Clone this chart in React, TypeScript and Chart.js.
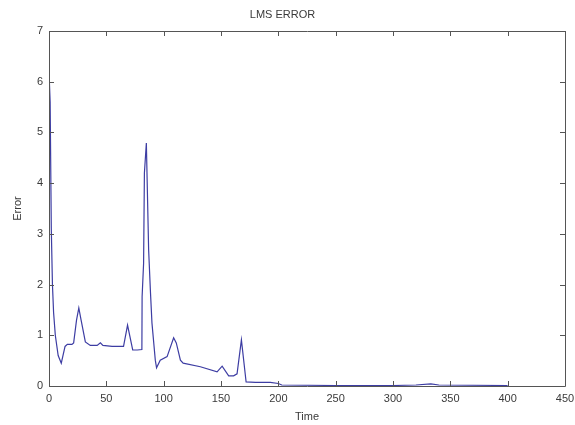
import React, { useEffect, useRef } from "react";
import { Chart, registerables } from "chart.js";

Chart.register(...registerables);

const titleText = "LMS ERROR";
const xLabel = "Time";
const yLabel = "Error";

const timeValues = [
  0, 1, 2, 3, 4, 5.5, 8, 10.7, 14, 16,
  20, 21.5, 24, 26, 28, 31.7, 36, 42, 44.8, 47,
  55, 65, 68.5, 73, 77, 81, 81.2, 82.5, 83.2, 84.9,
  86.9, 88.4, 89.8, 92.7, 93.8, 97, 103, 108.7, 111, 114.6,
  117, 132, 146.6, 151, 156.7, 161, 164, 167.8, 171.9, 180,
  193, 200, 203, 250, 300, 320, 333, 340, 400,
];

const errorValues = [
  6.2, 5.6, 3.1, 2.0, 1.45, 1.0, 0.6, 0.45, 0.78, 0.82,
  0.82, 0.85, 1.3, 1.54, 1.3, 0.87, 0.8, 0.8, 0.85, 0.8,
  0.78, 0.78, 1.2, 0.71, 0.71, 0.72, 1.76, 2.42, 4.2, 4.79,
  2.68, 1.89, 1.24, 0.51, 0.36, 0.51, 0.58, 0.95, 0.85, 0.51,
  0.45, 0.38, 0.28, 0.39, 0.2, 0.2, 0.24, 0.91, 0.08, 0.07,
  0.07, 0.05, 0.02, 0.01, 0.01, 0.02, 0.04, 0.02, 0.01,
];

const xMin = 0;
const xMax = 450;
const xStep = 50;
const yMin = 0;
const yMax = 7;
const yStep = 1;

const FONT = "'Liberation Sans', Arial, sans-serif";
const AXIS_COLOR = "#555555";
const TEXT_COLOR = "#3a3a3a";

const matlabFrame = {
  id: "matlabFrame",
  afterDatasetsDraw(chart: any) {
    const { ctx, chartArea, scales } = chart;
    const { left, right, top, bottom } = chartArea;
    const x = scales.x;
    const y = scales.y;
    const tl = 5;
    ctx.save();
    ctx.strokeStyle = AXIS_COLOR;
    ctx.lineWidth = 1;
    ctx.beginPath();
    ctx.rect(Math.round(left) + 0.5, Math.round(top) + 0.5, Math.round(right - left), Math.round(bottom - top));
    x.ticks.forEach((t: any) => {
      const px = Math.round(x.getPixelForValue(t.value)) + 0.5;
      ctx.moveTo(px, bottom);
      ctx.lineTo(px, bottom - tl);
      ctx.moveTo(px, top);
      ctx.lineTo(px, top + tl);
    });
    y.ticks.forEach((t: any) => {
      const py = Math.round(y.getPixelForValue(t.value)) + 0.5;
      ctx.moveTo(left, py);
      ctx.lineTo(left + tl, py);
      ctx.moveTo(right, py);
      ctx.lineTo(right - tl, py);
    });
    ctx.stroke();
    ctx.restore();
  },
};

export default function App() {
  const canvasRef = useRef<HTMLCanvasElement | null>(null);

  useEffect(() => {
    if (!canvasRef.current) return;
    const points = timeValues.map((t, i) => ({ x: t, y: errorValues[i] }));
    const chart = new Chart(canvasRef.current, {
      type: "line",
      data: {
        datasets: [
          {
            data: points,
            borderColor: "#3d3da3",
            borderWidth: 1.2,
            pointRadius: 0,
            tension: 0,
            fill: false,
          },
        ],
      },
      options: {
        responsive: false,
        animation: false,
        layout: { padding: { left: 0, right: 10, top: 0, bottom: 0 } },
        plugins: {
          legend: { display: false },
          tooltip: { enabled: false },
          title: {
            display: true,
            text: titleText,
            color: TEXT_COLOR,
            font: { family: FONT, size: 11, weight: "normal" },
            padding: { top: 8.4, bottom: 9.4 },
          },
        },
        scales: {
          x: {
            type: "linear",
            min: xMin,
            max: xMax,
            ticks: {
              stepSize: xStep,
              color: TEXT_COLOR,
              font: { family: FONT, size: 11 },
              padding: 6,
              maxRotation: 0,
            },
            grid: { display: false, drawTicks: false },
            border: { display: false },
            title: {
              display: true,
              text: xLabel,
              color: TEXT_COLOR,
              font: { family: FONT, size: 11 },
              padding: { top: 0, bottom: 1.7 },
            },
            afterFit: (scale: any) => {
              scale.height = 39;
              scale.paddingLeft = 0;
              scale.paddingRight = 0;
            },
          },
          y: {
            type: "linear",
            min: yMin,
            max: yMax,
            ticks: {
              stepSize: yStep,
              color: TEXT_COLOR,
              font: { family: FONT, size: 11 },
              padding: 6,
            },
            grid: { display: false, drawTicks: false },
            border: { display: false },
            title: {
              display: true,
              text: yLabel,
              color: TEXT_COLOR,
              font: { family: FONT, size: 11 },
              padding: { top: 11.4, bottom: 0 },
            },
            afterFit: (scale: any) => {
              scale.width = 49;
              scale.paddingTop = 0;
              scale.paddingBottom = 0;
            },
          },
        },
      },
      plugins: [matlabFrame],
    });
    return () => chart.destroy();
  }, []);

  return (
    <div style={{ position: "absolute", left: 0, top: 0, width: 575, height: 425, background: "#ffffff" }}>
      <canvas ref={canvasRef} width={575} height={425} />
    </div>
  );
}
